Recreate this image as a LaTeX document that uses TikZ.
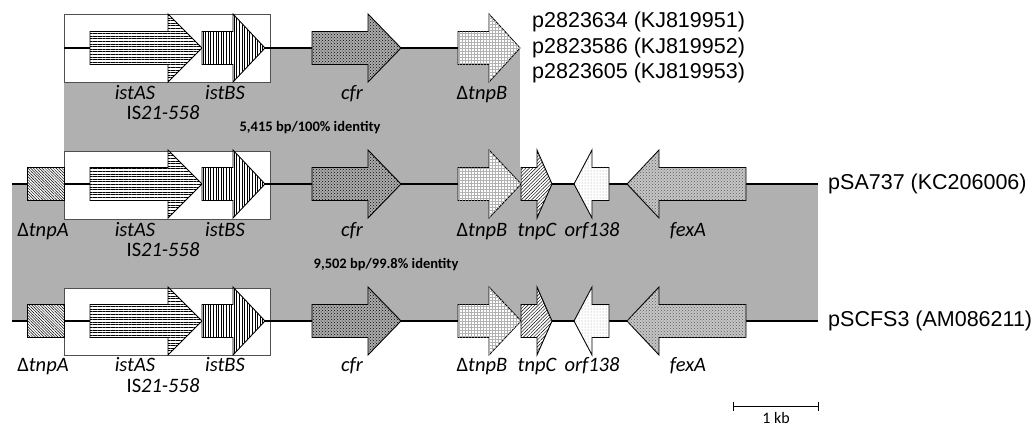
\documentclass[tikz,border=0pt]{standalone}
\usepackage{fontspec}
\setmainfont{Carlito}
\newfontfamily\arialf{Liberation Sans}
\usetikzlibrary{patterns,patterns.meta}
\definecolor{homgray}{RGB}{176,176,176}
\definecolor{boxedge}{RGB}{80,80,80}
% right-pointing gene: style, x0, xhead, xtip, y
\newcommand\rgene[5]{\draw[gene,#1] (#2,#5-16.5) -- (#3,#5-16.5) -- (#3,#5-34) -- (#4,#5) -- (#3,#5+34) -- (#3,#5+16.5) -- (#2,#5+16.5) -- cycle;}
% left-pointing gene: style, xtip, xhead, x1, y
\newcommand\lgene[5]{\draw[gene,#1] (#2,#5) -- (#3,#5-34) -- (#3,#5-16.5) -- (#4,#5-16.5) -- (#4,#5+16.5) -- (#3,#5+16.5) -- (#3,#5+34) -- cycle;}
\begin{document}
\begin{tikzpicture}[x=1pt,y=-1pt,
  gene/.style={draw=black,line width=0.9pt,line join=miter},
  gA/.style={fill=white,postaction={pattern={Lines[angle=0,distance=2.6pt,line width=0.45pt]}}},
  gB/.style={fill=white,postaction={pattern={Lines[angle=90,distance=2.6pt,line width=0.45pt]}}},
  gcfr/.style={fill=gray!65,postaction={pattern=crosshatch dots}},
  gtnpB/.style={fill=white,postaction={pattern=grid,pattern color=gray!60}},
  gtnpC/.style={fill=white,postaction={pattern={Lines[angle=45,distance=2.4pt,line width=0.45pt]}}},
  gorf/.style={fill=white,postaction={pattern=dots,pattern color=gray!80}},
  gfex/.style={fill=gray!45,postaction={pattern=crosshatch dots,pattern color=gray!70!black}},
  gtnpA/.style={fill=white,postaction={pattern={Lines[angle=-45,distance=2pt,line width=0.5pt]}}},
  backbone/.style={line width=2pt},
  isbox/.style={draw=boxedge,line width=0.8pt,fill=white},
  glab/.style={font=\fontsize{20.5}{20.5}\selectfont\itshape,anchor=base,inner sep=0pt},
  idlab/.style={font=\fontsize{14.5}{14.5}\selectfont\bfseries,anchor=base,inner sep=0pt},
  plab/.style={font=\arialf\fontsize{21.5}{21.5}\selectfont,anchor=west,inner sep=0pt},
]
\useasboundingbox (0,0) rectangle (1036,426);
% homology shading
\fill[homgray] (64,48) rectangle (520,184);
\fill[homgray] (12,184) rectangle (818,321);
% IS boxes
\draw[isbox] (64,14) rectangle (270,82);
\draw[isbox] (64,151) rectangle (270,219);
\draw[isbox] (64,288) rectangle (270,355);
% backbones
\draw[backbone] (64,48) -- (520,48);
\draw[backbone] (12,184) -- (818,184);
\draw[backbone] (12,321) -- (818,321);
% row 1
\rgene{gA}{90}{168}{202}{48}
\rgene{gB}{202}{233}{265}{48}
\rgene{gcfr}{312}{368}{401}{48}
\rgene{gtnpB}{458}{489}{520}{48}
% rows 2 and 3
\foreach \yy in {184,321}{
  \draw[gene,gtnpA] (27,\yy-16.5) rectangle (64,\yy+16.5);
  \rgene{gA}{90}{168}{202}{\yy}
  \rgene{gB}{202}{233}{265}{\yy}
  \rgene{gcfr}{312}{368}{401}{\yy}
  \rgene{gtnpB}{458}{489}{521}{\yy}
  \rgene{gtnpC}{521}{537}{552}{\yy}
  \lgene{gorf}{574}{592}{609}{\yy}
  \lgene{gfex}{627}{659}{746}{\yy}
}
% row 1 labels
\node[glab] (l1a) at (135,99) {istAS};
\node[glab] (l1b) at (225,99) {istBS};
\node[glab] (l1is) at (163,119) {\upshape IS\itshape 21-558};
\node[glab] (l1c) at (352,99) {cfr};
\node[glab] (l1t) at (482,99) {\upshape Δ\itshape tnpB};
\node[idlab] (id1) at (310,131) {5,415 bp/100\% identity};
% row 2 labels
\node[glab] (l2tA) at (43,236) {\upshape Δ\itshape tnpA};
\node[glab] (l2a) at (135,236) {istAS};
\node[glab] (l2b) at (225,236) {istBS};
\node[glab] (l2is) at (163,256) {\upshape IS\itshape 21-558};
\node[glab] (l2c) at (352,236) {cfr};
\node[glab] (l2t) at (482,236) {\upshape Δ\itshape tnpB};
\node[glab] (l2C) at (537,236) {tnpC};
\node[glab] (l2o) at (592,236) {orf138};
\node[glab] (l2f) at (688,236) {fexA};
\node[idlab] (id2) at (386,268) {9,502 bp/99.8\% identity};
% row 3 labels
\node[glab] (l3tA) at (43,371) {\upshape Δ\itshape tnpA};
\node[glab] (l3a) at (135,371) {istAS};
\node[glab] (l3b) at (225,371) {istBS};
\node[glab] (l3is) at (163,392) {\upshape IS\itshape 21-558};
\node[glab] (l3c) at (352,371) {cfr};
\node[glab] (l3t) at (482,371) {\upshape Δ\itshape tnpB};
\node[glab] (l3C) at (537,371) {tnpC};
\node[glab] (l3o) at (592,371) {orf138};
\node[glab] (l3f) at (688,371) {fexA};
% plasmid labels
\node[plab] (p1) at (532,22) {p2823634 (KJ819951)};
\node[plab] (p2) at (532,48) {p2823586 (KJ819952)};
\node[plab] (p3) at (532,73) {p2823605 (KJ819953)};
\node[plab] (p4) at (828,184) {pSA737 (KC206006)};
\node[plab] (p5) at (828,321) {pSCFS3 (AM086211)};
% scale bar
\coordinate (sb1) at (733,406);
\coordinate (sb2) at (818,406);
\draw[line width=1pt] (sb1) -- (sb2);
\draw[line width=1pt] ([yshift=4.5pt]sb1) -- ([yshift=-4.5pt]sb1);
\draw[line width=1pt] ([yshift=4.5pt]sb2) -- ([yshift=-4.5pt]sb2);
\node[font=\fontsize{16}{16}\selectfont,anchor=base,inner sep=0pt] (kb) at (776,423.5) {1 kb};
\end{tikzpicture}
\end{document}
